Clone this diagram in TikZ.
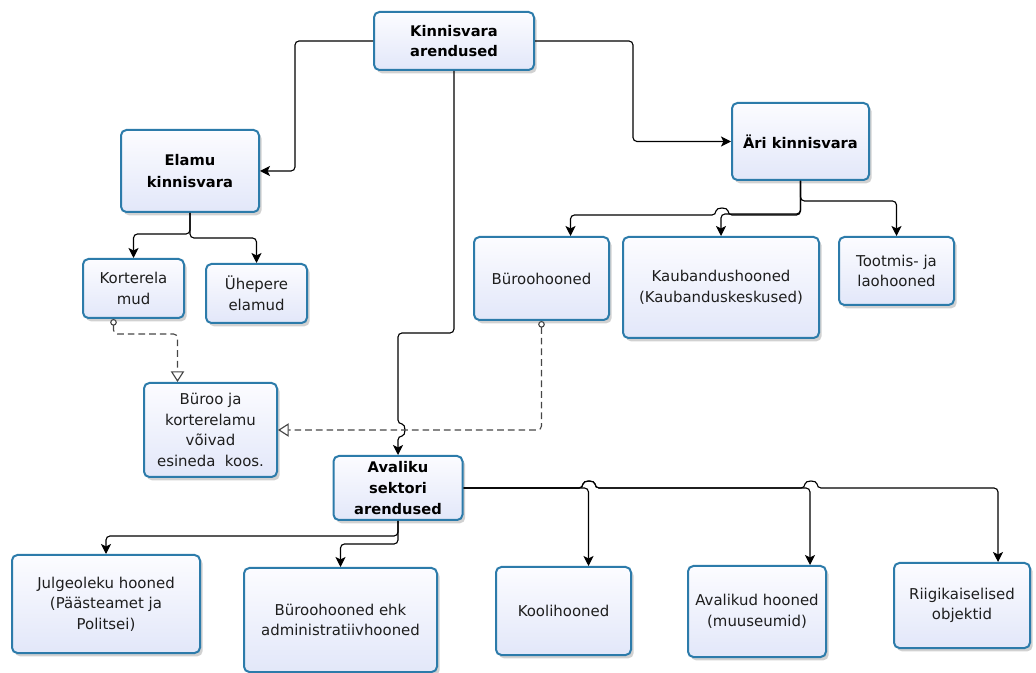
\documentclass[tikz,border=0pt]{standalone}
\usepackage{fontspec}
\setmainfont{DejaVu Sans}
\usetikzlibrary{arrows.meta,shadows}
\definecolor{boxblue}{RGB}{44,123,170}
\definecolor{boxtop}{RGB}{252,252,255}
\definecolor{boxbot}{RGB}{226,231,249}
\definecolor{dashgray}{RGB}{70,70,70}
\definecolor{txtcol}{RGB}{30,30,30}
\begin{document}
\begin{tikzpicture}[x=0.75pt,y=-0.75pt,
  box/.style={draw=boxblue, line width=1.5pt, rounded corners=4pt,
    top color=boxtop, bottom color=boxbot, align=center, inner sep=1pt,
    text=txtcol,
    drop shadow={shadow xshift=2pt, shadow yshift=-2.5pt, fill=black, opacity=0.18},
    font=\fontsize{11.2}{15.5}\selectfont},
  boldbox/.style={box, text=black, font=\fontsize{11}{15.5}\selectfont\bfseries},
  conn/.style={draw=black, line width=0.85pt, rounded corners=3pt,
    -{Stealth[length=7.5pt,width=7.5pt,inset=1.8pt]}},
  dconn/.style={draw=dashgray, line width=0.85pt, rounded corners=3pt,
    dash pattern=on 5pt off 3pt,
    {Circle[open,length=5pt,width=5pt,fill=white]}-{Triangle[open,length=8pt,width=10pt,fill=white]}}
]
\useasboundingbox (0,0) rectangle (1036,673);

% nodes
\node[boldbox, minimum width={160*0.75pt}, minimum height={58*0.75pt}] (top) at (454,41) {Kinnisvara\\arendused};
\node[boldbox, minimum width={138*0.75pt}, minimum height={82*0.75pt}, font=\fontsize{11}{16.5}\selectfont\bfseries] (elamu) at (190,171) {Elamu\\kinnisvara};
\node[box, minimum width={101*0.75pt}, minimum height={59*0.75pt}] (kort) at (133.5,288.5) {Korterela\\mud};
\node[box, minimum width={101*0.75pt}, minimum height={59*0.75pt}] (uhe) at (256.5,293.5) {Ühepere\\elamud};
\node[box, minimum width={133*0.75pt}, minimum height={94*0.75pt}] (bja) at (210.5,430) {Büroo ja\\korterelamu\\võivad\\esineda\ \ koos.};
\node[boldbox, minimum width={129*0.75pt}, minimum height={64*0.75pt}] (aval) at (398,488) {Avaliku\\sektori\\arendused};
\node[boldbox, minimum width={137*0.75pt}, minimum height={77*0.75pt}] (ari) at (800.5,141.5) {Äri kinnisvara};
\node[box, minimum width={135*0.75pt}, minimum height={83*0.75pt}] (buroo) at (541.5,278.5) {Büroohooned};
\node[box, minimum width={196*0.75pt}, minimum height={101*0.75pt}] (kaub) at (721,287.5) {Kaubandushooned\\(Kaubanduskeskused)};
\node[box, minimum width={115*0.75pt}, minimum height={68*0.75pt}] (toot) at (896.5,271) {Tootmis- ja\\laohooned};
\node[box, minimum width={188*0.75pt}, minimum height={98*0.75pt}] (julg) at (106,604) {Julgeoleku hooned\\(Päästeamet ja\\Politsei)};
\node[box, minimum width={193*0.75pt}, minimum height={104*0.75pt}] (bur2) at (340.5,620) {Büroohooned ehk\\administratiivhooned};
\node[box, minimum width={135*0.75pt}, minimum height={88*0.75pt}] (kool) at (563.5,611) {Koolihooned};
\node[box, minimum width={138*0.75pt}, minimum height={91*0.75pt}] (avhoo) at (757,611.5) {Avalikud hooned\\(muuseumid)};
\node[box, minimum width={136*0.75pt}, minimum height={85*0.75pt}] (riigi) at (962,605.5) {Riigikaiselised\\objektid};

% anchor helpers
\coordinate (kortS) at ([xshift=-15pt]kort.south);
\coordinate (bjaN) at ([xshift=-24.75pt]bja.north);
\coordinate (burooS) at (buroo.south);
\coordinate (burooN) at ([xshift=21.75pt]buroo.north);
\coordinate (koolN) at ([xshift=18.75pt]kool.north);
\coordinate (avhooN) at ([xshift=39.75pt]avhoo.north);
\coordinate (riigiN) at ([xshift=27pt]riigi.north);

% top level
\draw[conn] (top.west) -- ++(-78,0) |- (elamu.east);
\draw[conn] (top.east) -- ++(98,0) |- (ari.west);
\draw[conn] (top.south) -- (454,333) -- (398,333) -- (398,424)
   .. controls (406,424) and (406,436) .. (398,436) -- (aval.north);

% elamu
\draw[conn] (elamu.south) -- ++(0,21) -| (kort.north);
\draw[conn] (elamu.south) -- ++(0,25) -| (uhe.north);

% ari
\draw[conn] (ari.south) -- ++(0,33) -| (kaub.north);
\draw[conn] (ari.south) -- (800.5,215) -- (728,215)
   .. controls (728,207) and (716,207) .. (716,215) -| (burooN);
\draw[conn] (ari.south) -- ++(0,20) -| (toot.north);

% dashed
\draw[dconn] (kortS) -- ++(0,15) -| (bjaN);
\draw[dconn] (burooS) |- (bja.east);

% avaliku
\draw[conn] (aval.south) -- ++(0,15) -| (julg.north);
\draw[conn] (aval.south) -- ++(0,23) -| (bur2.north);
\draw[conn] (aval.east) -| (koolN);
\draw[conn] (aval.east) -- (583,488) .. controls (583,480) and (595,480) .. (595,488) -| (avhooN);
\draw[conn] (aval.east) -- (583,488) .. controls (583,480) and (595,480) .. (595,488)
   -- (805,488) .. controls (805,480) and (817,480) .. (817,488) -| (riigiN);
\end{tikzpicture}
\end{document}
